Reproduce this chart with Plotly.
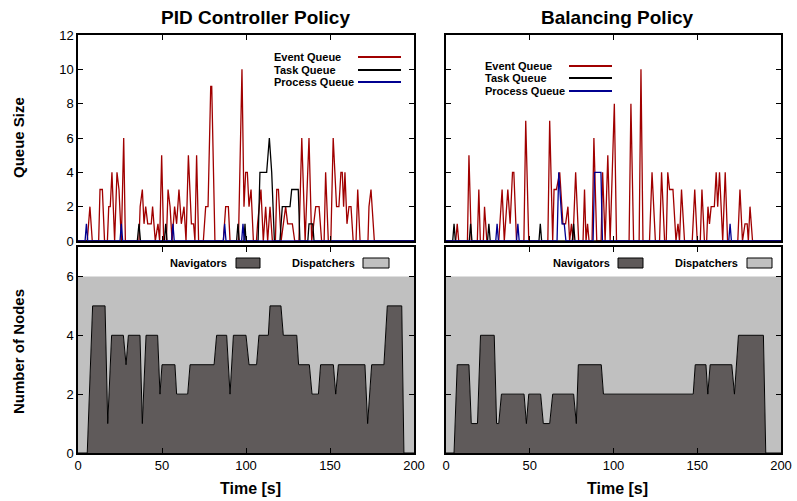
import plotly.graph_objects as go

# ---------------- data ----------------
time_ticks = [0, 50, 100, 150, 200]

# PID Controller Policy: queues
pid_event_t = [0, 5.5, 7.1, 8.5, 12.3, 13.1, 14.5, 15.8, 17.5, 18.3, 19.2, 20.2, 21.8, 23.2, 24.4, 25.8, 27.2, 28.2,
               36.3, 37.0, 38.3, 39.3, 40.3, 41.5, 43.6, 44.4, 46.0, 47.6, 48.6, 49.8, 51.0,
               52.6, 53.6, 54.8, 56.0, 57.5, 58.7, 60.1, 61.5, 63.1, 64.3, 65.7, 67.5, 68.8, 69.6, 70.6, 71.8,
               74.6, 76.0, 77.4, 79.0, 79.6, 81.5, 86.5, 87.9, 89.5, 90.5,
               95.5, 97.6, 98.8, 99.8, 100.8, 101.8, 103.0, 104.4, 106.2, 106.9, 108.9, 110.3, 111.7, 112.9,
               114.3, 115.7, 117.5, 118.3, 119.3, 120.9, 122.3, 123.6, 124.8, 127.6, 129.0,
               131.5, 133.2, 135.2, 137.5, 139.1, 141.5, 143.5, 145.0, 146.5, 147.4, 149.0, 150.5, 151.9,
               153.9, 155.3, 156.5, 157.3, 158.1, 158.9, 160.1, 161.3, 162.5, 163.8, 165.5, 166.5, 167.9,
               172.6, 173.2, 174.4, 176.4, 200]
pid_event_v = [0, 0, 2, 0, 0, 3, 3, 0, 0, 2, 2, 4, 0, 4, 3, 0, 6, 0,
               0, 2, 3, 1, 2, 1, 1, 2, 0, 1, 0, 5, 0,
               0, 3, 2, 0, 2, 1, 3, 1, 2, 0, 5, 1, 1, 0, 5, 0,
               0, 2, 2, 9, 9, 0, 0, 2, 2, 0,
               0, 10, 2, 4, 4, 2, 3, 0, 0, 1, 3, 0, 2, 0,
               2, 0, 0, 3, 3, 0, 1, 2, 1, 1, 0,
               0, 6, 0, 6, 0, 2, 2, 0, 0, 4, 0, 0, 6,
               2, 2, 4, 4, 2, 4, 1, 2, 2, 0, 0, 3, 0,
               0, 2, 3, 0, 0]

pid_task_t = [0, 35.3, 36.3, 37.2, 51.4, 52.2, 53.0, 94.4, 95.2, 96.0, 98.8, 99.4, 100.0,
              107.2, 108.3, 112.3, 113.9, 115.3, 116.9, 120.2, 121.6, 126.2, 127.2, 131.1, 132.1,
              136.8, 137.5, 139.7, 140.5, 200]
pid_task_v = [0, 0, 1, 0, 0, 1, 0, 0, 1, 0, 0, 1, 0,
              0, 4, 4, 6, 4, 0, 0, 2, 2, 3, 3, 0,
              0, 1, 1, 0, 0]

pid_proc_t = [0, 4.2, 5.0, 5.8, 25.0, 25.8, 26.6, 55.7, 56.5, 57.3, 86.5, 87.3, 88.1, 97.4, 98.2, 99.0, 200]
pid_proc_v = [0, 0, 1, 0, 0, 1, 0, 0, 1, 0, 0, 1, 0, 0, 1, 0, 0]

# Balancing Policy: queues
bal_event_t = [0, 5.8, 6.7, 7.6, 12.8, 13.7, 15.1, 18.7, 19.6, 20.5, 22.3, 23.0, 24.4,
               31.5, 33.5, 34.8, 36.9, 38.3, 39.7, 40.5, 42.1, 46.5, 47.6, 49.4,
               60.8, 61.9, 63.7, 64.5, 65.9, 67.9, 69.8, 71.4, 72.8, 73.8, 74.9, 75.8, 77.4, 79.2,
               81.8, 82.7, 83.6, 84.5, 85.4, 87.2, 88.3, 90.0, 92.6, 93.5, 95.0, 96.6, 98.0, 100.5, 101.8,
               109.3, 110.4, 112.0, 115.3, 116.4, 117.6,
               121.5, 123.0, 125.0, 127.5, 128.7, 130.5, 131.5, 132.4, 133.5, 135.5, 137.3, 138.5, 139.4, 140.6, 142.4,
               147.0, 148.5, 150.0, 151.8, 152.8, 154.3, 155.6, 156.4, 157.3, 158.3, 160.2, 161.3, 162.2, 163.3,
               165.2, 166.7, 168.1, 174.2, 175.5, 177.0, 178.5, 179.8, 180.5, 181.5, 183.0, 200]
bal_event_v = [0, 0, 1, 0, 0, 5, 0, 0, 3, 0, 0, 2, 0,
               0, 3, 0, 3, 1, 4, 4, 0, 0, 7, 0,
               0, 7, 0, 3, 3, 4, 1, 1, 2, 0, 1, 0, 4, 0,
               0, 3, 0, 1, 0, 0, 6, 0, 0, 4, 0, 5, 0, 8, 0,
               0, 8, 0, 0, 10, 0,
               0, 4, 0, 0, 4, 0, 0, 4, 3, 3, 0, 1, 0, 3, 0,
               0, 3, 0, 0, 3, 0, 0, 2, 1, 2, 2, 4, 2, 4,
               0, 4, 0, 0, 3, 0, 1, 1, 0, 2, 0, 0]

bal_task_t = [0, 4.0, 4.8, 5.6, 13.9, 14.7, 15.5, 24.8, 25.6, 26.4, 55.5, 56.3, 57.1, 75.4, 76.2, 77.0, 200]
bal_task_v = [0, 0, 1, 0, 0, 1, 0, 0, 1, 0, 0, 1, 0, 0, 1, 0, 0]

bal_proc_t = [0, 29.7, 30.5, 31.3, 42.1, 42.9, 43.7, 66.3, 67.3, 69.3, 70.6, 71.6,
              87.8, 88.7, 92.5, 93.4, 168.8, 169.6, 170.4, 200]
bal_proc_v = [0, 0, 1, 0, 0, 1, 0, 0, 4, 1, 1, 0,
              0, 4, 4, 0, 0, 1, 0, 0]

# Number of nodes (navigators); dispatchers fill the remainder up to 6
total_nodes = 6
pid_nav_t = [0, 5.5, 8.7, 16.1, 17.7, 20.0, 27.0, 28.6, 30.0, 36.9, 38.3, 40.5, 47.4, 48.8, 50.0, 57.7, 58.7,
             65.3, 66.7, 81.0, 82.5, 88.5, 90.5, 92.5, 100.0, 101.8, 106.3, 107.7, 113.3, 114.3, 120.8,
             122.2, 130.2, 131.3, 137.7, 139.3, 143.1, 144.4, 152.0, 153.4, 155.0, 170.8, 172.4, 174.8,
             182.1, 184.1, 192.7, 194.0, 200]
pid_nav_v = [0, 0, 5, 5, 1, 4, 4, 3, 4, 4, 1, 4, 4, 2, 3, 3, 2,
             2, 3, 3, 4, 4, 2, 4, 4, 3, 3, 4, 4, 5, 5,
             4, 4, 3, 3, 2, 2, 3, 3, 2, 3, 3, 1, 3,
             3, 5, 5, 0, 0]

bal_nav_t = [0, 4.8, 6.7, 13.7, 15.1, 18.8, 20.6, 28.8, 30.2, 31.5, 33.1, 46.6, 48.0, 49.4, 56.5, 58.1,
             61.9, 63.7, 76.2, 77.8, 79.0, 92.7, 94.0, 147.6, 148.8, 155.2, 156.3, 157.7, 170.6, 172.2,
             174.6, 189.5, 190.9, 200]
bal_nav_v = [0, 0, 3, 3, 1, 1, 4, 4, 1, 1, 2, 2, 1, 2, 2, 1,
             1, 2, 2, 1, 3, 3, 2, 2, 3, 3, 2, 3, 3, 2,
             4, 4, 0, 0]

pid_disp_v = [total_nodes - v for v in pid_nav_v]
bal_disp_v = [total_nodes - v for v in bal_nav_v]

queue_names = ["Event Queue", "Task Queue", "Process Queue"]
node_names = ["Navigators", "Dispatchers"]
panel_titles = ["PID Controller Policy", "Balancing Policy"]

# ---------------- style ----------------
RED = "#a00000"
BLACK = "#000000"
BLUE = "#000090"
NAV = "#5f5a5a"
DISP = "#c0c0c0"
W, H = 797, 501
L, R, T, B = 78, 16, 35, 48
PW, PH = W - L - R, H - T - B
FONT = "Liberation Sans, Arial"


def px(x):
    return (x - L) / PW


def py(y):
    return (H - B - y) / PH


fig = go.Figure()

# top panels: queues
for (et, ev, tt, tv, pt, pv), xa, ya in [
    ((pid_event_t, pid_event_v, pid_task_t, pid_task_v, pid_proc_t, pid_proc_v), "x", "y"),
    ((bal_event_t, bal_event_v, bal_task_t, bal_task_v, bal_proc_t, bal_proc_v), "x2", "y2"),
]:
    for t, v, c, n in [(et, ev, RED, queue_names[0]), (tt, tv, BLACK, queue_names[1]), (pt, pv, BLUE, queue_names[2])]:
        fig.add_trace(go.Scatter(x=t, y=v, mode="lines", line=dict(color=c, width=1.3),
                                 name=n, xaxis=xa, yaxis=ya, showlegend=False))

# bottom panels: nodes
for t, nv, dv, xa, ya, sg in [(pid_nav_t, pid_nav_v, pid_disp_v, "x3", "y3", "a"),
                              (bal_nav_t, bal_nav_v, bal_disp_v, "x4", "y4", "b")]:
    fig.add_trace(go.Scatter(x=t, y=nv, mode="lines", stackgroup=sg, fillcolor=NAV,
                             line=dict(color=BLACK, width=1), name=node_names[0],
                             xaxis=xa, yaxis=ya, showlegend=False))
    fig.add_trace(go.Scatter(x=t, y=dv, mode="lines", stackgroup=sg, fillcolor=DISP,
                             line=dict(color=DISP, width=0), name=node_names[1],
                             xaxis=xa, yaxis=ya, showlegend=False))

xd_left = [0, px(414)]
xd_right = [px(446), 1]
yd_top = [py(241), 1]
yd_bot = [0, py(247)]

ax_common = dict(showline=True, linecolor="black", linewidth=1.5, mirror="allticks",
                 ticks="inside", ticklen=5, tickwidth=1, tickcolor="black", showgrid=False,
                 zeroline=False, tickfont=dict(family=FONT, size=13, color="black"))

fig.update_layout(
    width=W, height=H, autosize=False, margin=dict(l=L, r=R, t=T, b=B, autoexpand=False),
    paper_bgcolor="white", plot_bgcolor="white", showlegend=False,
    xaxis=dict(domain=xd_left, anchor="y", range=[0, 200], tickvals=time_ticks, showticklabels=False, **ax_common),
    yaxis=dict(domain=yd_top, anchor="x", range=[0, 12], dtick=2, **ax_common),
    xaxis2=dict(domain=xd_right, anchor="y2", range=[0, 200], tickvals=time_ticks, showticklabels=False, **ax_common),
    yaxis2=dict(domain=yd_top, anchor="x2", range=[0, 12], dtick=2, showticklabels=False, **ax_common),
    xaxis3=dict(domain=xd_left, anchor="y3", range=[0, 200], tickvals=time_ticks, **ax_common),
    yaxis3=dict(domain=yd_bot, anchor="x3", range=[0, 7], tickvals=[0, 2, 4, 6], **ax_common),
    xaxis4=dict(domain=xd_right, anchor="y4", range=[0, 200], tickvals=time_ticks, **ax_common),
    yaxis4=dict(domain=yd_bot, anchor="x4", range=[0, 7], tickvals=[0, 2, 4, 6], showticklabels=False, **ax_common),
)

ann = []
shapes = []
# titles
for title, cx in zip(panel_titles, (255, 617)):
    ann.append(dict(text="<b>" + title + "</b>", x=px(cx), y=py(17), xref="paper", yref="paper",
                    showarrow=False, font=dict(family=FONT, size=19, color="black"),
                    xanchor="center", yanchor="middle"))
for cx in (250, 617):
    ann.append(dict(text="<b>Time [s]</b>", x=px(cx), y=py(488), xref="paper", yref="paper",
                    showarrow=False, font=dict(family=FONT, size=16, color="black"),
                    xanchor="center", yanchor="middle"))
ann.append(dict(text="<b>Queue Size</b>", x=px(18), y=py(138), xref="paper", yref="paper", textangle=-90,
                showarrow=False, font=dict(family=FONT, size=15, color="black"), xanchor="center", yanchor="middle"))
ann.append(dict(text="<b>Number of Nodes</b>", x=px(18), y=py(352), xref="paper", yref="paper", textangle=-90,
                showarrow=False, font=dict(family=FONT, size=15, color="black"), xanchor="center", yanchor="middle"))

# queue legends
for tx, sx0, sx1, ys in [(272, 358, 401, [57, 70, 82]), (483, 569, 612, [66, 78, 91])]:
    for name, c, yy in zip(queue_names, [RED, BLACK, BLUE], ys):
        ann.append(dict(text="<b>" + name + "</b>", x=px(tx), y=py(yy), xref="paper", yref="paper",
                        showarrow=False, font=dict(family=FONT, size=11, color="black"),
                        xanchor="left", yanchor="middle"))
        shapes.append(dict(type="line", xref="paper", yref="paper", x0=px(sx0), x1=px(sx1), y0=py(yy), y1=py(yy),
                           line=dict(color=c, width=2)))

# node legends
for (nt, b0, b1), (dt, c0, c1) in [((229, 236, 260), (357, 363, 389)), ((612, 618, 643), (740, 747, 772))]:
    for name, te, x0, x1, col in [(node_names[0], nt, b0, b1, NAV), (node_names[1], dt, c0, c1, DISP)]:
        ann.append(dict(text="<b>" + name + "</b>", x=px(te), y=py(263), xref="paper", yref="paper",
                        showarrow=False, font=dict(family=FONT, size=11, color="black"),
                        xanchor="right", yanchor="middle"))
        shapes.append(dict(type="rect", xref="paper", yref="paper", x0=px(x0), x1=px(x1), y0=py(268), y1=py(258),
                           fillcolor=col, line=dict(color="black", width=1)))

fig.update_layout(annotations=ann, shapes=shapes)
fig.write_html("out.html", config={"displayModeBar": False, "responsive": False})

# remove the default page margin / scrollbars so the figure sits at the window's top-left corner
with open("out.html", encoding="utf-8") as f:
    html = f.read()
html = html.replace("<head>", "<head><style>html,body{margin:0;padding:0;overflow:hidden;}</style>", 1)
with open("out.html", "w", encoding="utf-8") as f:
    f.write(html)
